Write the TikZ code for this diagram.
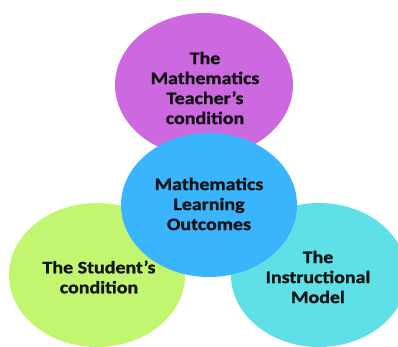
\documentclass[tikz,border=0pt]{standalone}
\usepackage{fontspec}
\setmainfont{Carlito}[FakeStretch=1.14,BoldFeatures={FakeBold=1.2}]
\definecolor{cpurple}{RGB}{204,104,224}
\definecolor{cblue}{RGB}{58,180,252}
\definecolor{cgreen}{RGB}{194,246,112}
\definecolor{ccyan}{RGB}{94,224,230}
\definecolor{ctext}{RGB}{20,20,20}
\begin{document}
\begin{tikzpicture}[x=1pt,y=-1pt,
  lbl/.style={align=center, font=\fontsize{17.5}{20}\selectfont\bfseries, text=ctext}]
\useasboundingbox (0,0) rectangle (398,347);
\clip (0,0) rectangle (398,347);
\fill[cpurple] (204,85) ellipse [x radius=89, y radius=72];
\fill[cgreen] (97,275) ellipse [x radius=88, y radius=72];
\fill[ccyan] (319,275) ellipse [x radius=88, y radius=72];
\fill[cblue] (209,205) ellipse [x radius=88, y radius=72];
\node[lbl] (teacher) at (205,88) {The\\Mathematics\\Teacher’s\\condition};
\node[lbl] (outcomes) at (209,204) {Mathematics\\Learning\\Outcomes};
\node[lbl] (student) at (99,277) {The Student’s\\condition};
\node[lbl] (model) at (318,277) {The\\Instructional\\Model};
\end{tikzpicture}
\end{document}
